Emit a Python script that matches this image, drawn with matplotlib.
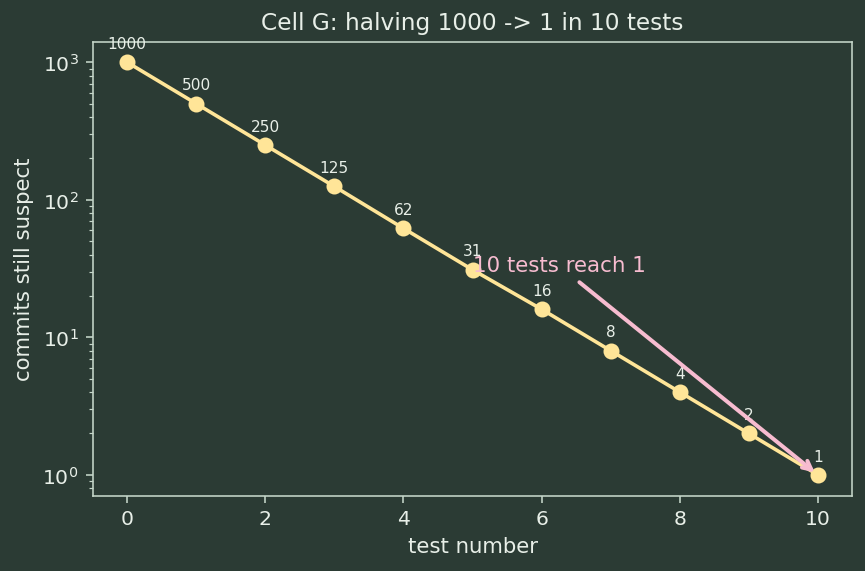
import numpy as np
import matplotlib
matplotlib.use("Agg")
import matplotlib.pyplot as plt

# data
tests = [0, 1, 2, 3, 4, 5, 6, 7, 8, 9, 10]
suspect = [1000, 500, 250, 125, 62, 31, 16, 8, 4, 2, 1]

bg = "#2b3b34"
fg = "#e8efe8"
spine = "#c5d6c9"
line_col = "#ffe598"
pink = "#f7bcd0"

fig, ax = plt.subplots(figsize=(6.01, 3.97), dpi=144)
fig.patch.set_facecolor(bg)
ax.set_facecolor(bg)

ax.plot(tests, suspect, color=line_col, lw=1.8, marker="o", ms=7)
ax.set_yscale("log")

for x, y in zip(tests, suspect):
    ax.annotate(str(y), (x, y), textcoords="offset points", xytext=(0, 7),
                ha="center", fontsize=7.7, color=fg)

ax.annotate("10 tests reach 1", xy=(10, 1), xytext=(5, 30), fontsize=10.7,
            color=pink, arrowprops=dict(arrowstyle="->", color=pink, lw=2))

ax.set_title("Cell G: halving 1000 -> 1 in 10 tests", color=fg, fontsize=11.6)
ax.set_xlabel("test number", color=fg, fontsize=10.6)
ax.set_ylabel("commits still suspect", color=fg, fontsize=10.6)
ax.tick_params(colors=fg, labelsize=10.2, which="both")
ax.tick_params(axis="both", which="both", color=spine)
for s in ax.spines.values():
    s.set_color(spine)

fig.subplots_adjust(left=0.107, right=0.985, top=0.926, bottom=0.132)
fig.savefig("out.png", facecolor=bg)
